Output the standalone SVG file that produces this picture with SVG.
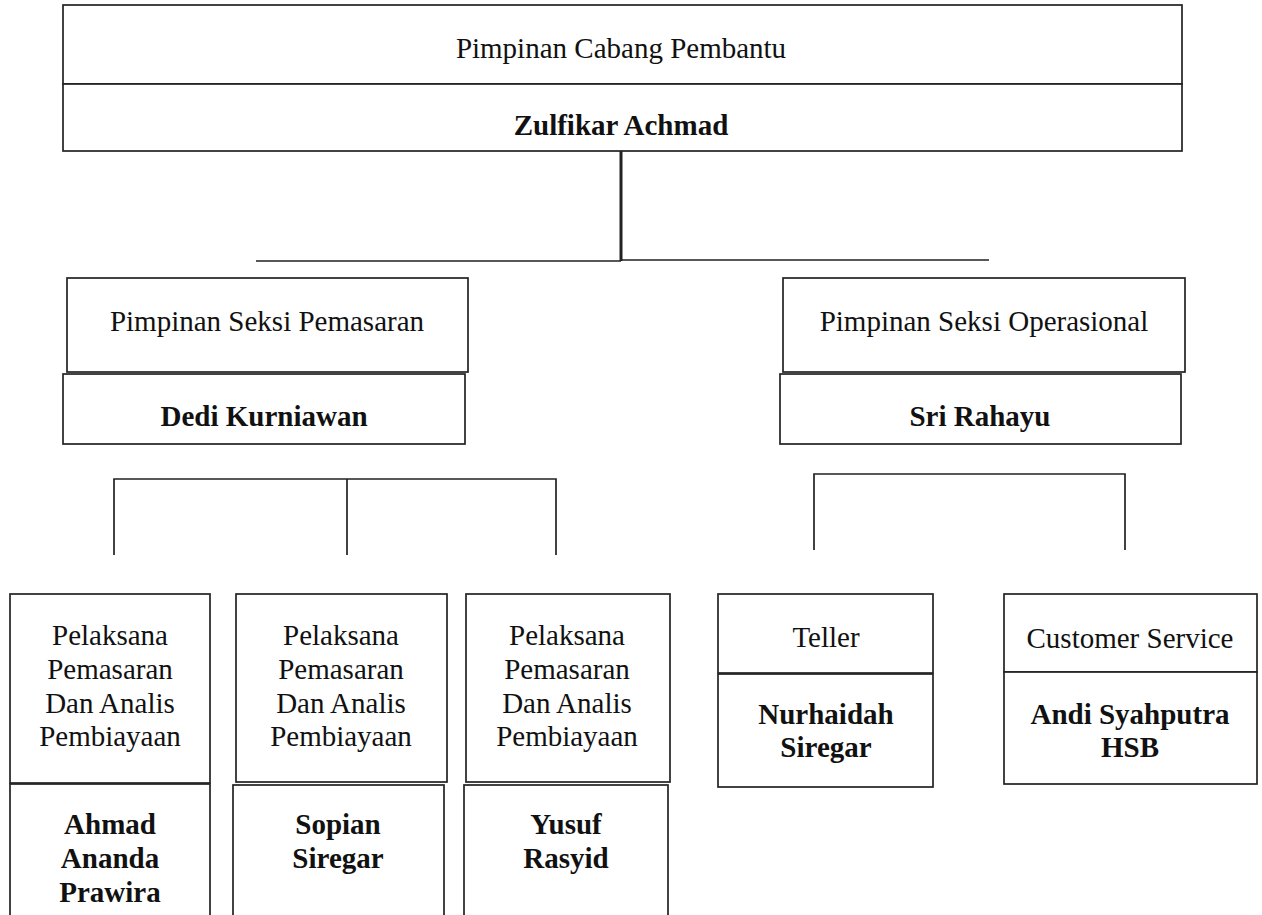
<svg xmlns="http://www.w3.org/2000/svg" width="1262" height="915" viewBox="0 0 1262 915">
  <style>
    .box { fill: #fff; stroke: #222; stroke-width: 1.7; }
    .wire { fill: none; stroke: #222; stroke-width: 1.7; }
    .title { font-family: "Liberation Serif", "Times New Roman", serif; font-size: 29px; fill: #111; text-anchor: middle; }
    .name { font-family: "Liberation Serif", "Times New Roman", serif; font-size: 29px; font-weight: bold; fill: #111; text-anchor: middle; }
  </style>
  <rect width="1262" height="915" fill="#fff"/>

  <!-- connectors -->
  <g id="connectors">
    <path class="wire" d="M621,151 V261" style="stroke-width:3"/>
    <path class="wire" d="M256,261 H621 M621,260 H989"/>
    <path class="wire" d="M114,555 V479 H556 V555 M347,479 V555"/>
    <path class="wire" d="M814,550 V474 H1125 V550"/>
  </g>

  <!-- head of branch -->
  <g id="node-pimpinan-cabang">
    <rect class="box" x="63" y="5" width="1119" height="79"/>
    <rect class="box" x="63" y="84" width="1119" height="67"/>
    <text class="title" x="621" y="58">Pimpinan Cabang Pembantu</text>
    <text class="name" x="621" y="135">Zulfikar Achmad</text>
  </g>

  <!-- marketing section -->
  <g id="node-seksi-pemasaran">
    <rect class="box" x="67" y="278" width="401" height="94"/>
    <rect class="box" x="63" y="374" width="402" height="70"/>
    <text class="title" x="267" y="331">Pimpinan Seksi Pemasaran</text>
    <text class="name" x="264" y="426">Dedi Kurniawan</text>
  </g>

  <!-- operations section -->
  <g id="node-seksi-operasional">
    <rect class="box" x="783" y="278" width="402" height="94"/>
    <rect class="box" x="780" y="374" width="401" height="70"/>
    <text class="title" x="984" y="331">Pimpinan Seksi Operasional</text>
    <text class="name" x="980" y="426">Sri Rahayu</text>
  </g>

  <!-- marketing staff 1 -->
  <g id="node-pelaksana-1">
    <rect class="box" x="10" y="594" width="200" height="189"/>
    <rect class="box" x="10" y="784" width="200" height="140"/>
    <text class="title" x="110" y="645">Pelaksana</text>
    <text class="title" x="110" y="679">Pemasaran</text>
    <text class="title" x="110" y="713">Dan Analis</text>
    <text class="title" x="110" y="746">Pembiayaan</text>
    <text class="name" x="110" y="834">Ahmad</text>
    <text class="name" x="110" y="868">Ananda</text>
    <text class="name" x="110" y="902">Prawira</text>
  </g>

  <!-- marketing staff 2 -->
  <g id="node-pelaksana-2">
    <rect class="box" x="236" y="594" width="211" height="188"/>
    <rect class="box" x="233" y="785" width="211" height="140"/>
    <text class="title" x="341" y="645">Pelaksana</text>
    <text class="title" x="341" y="679">Pemasaran</text>
    <text class="title" x="341" y="713">Dan Analis</text>
    <text class="title" x="341" y="746">Pembiayaan</text>
    <text class="name" x="338" y="834">Sopian</text>
    <text class="name" x="338" y="868">Siregar</text>
  </g>

  <!-- marketing staff 3 -->
  <g id="node-pelaksana-3">
    <rect class="box" x="466" y="594" width="204" height="188"/>
    <rect class="box" x="464" y="785" width="204" height="140"/>
    <text class="title" x="567" y="645">Pelaksana</text>
    <text class="title" x="567" y="679">Pemasaran</text>
    <text class="title" x="567" y="713">Dan Analis</text>
    <text class="title" x="567" y="746">Pembiayaan</text>
    <text class="name" x="566" y="834">Yusuf</text>
    <text class="name" x="566" y="868">Rasyid</text>
  </g>

  <!-- teller -->
  <g id="node-teller">
    <rect class="box" x="718" y="594" width="215" height="79"/>
    <rect class="box" x="718" y="674" width="215" height="113"/>
    <text class="title" x="826" y="647">Teller</text>
    <text class="name" x="826" y="724">Nurhaidah</text>
    <text class="name" x="826" y="757">Siregar</text>
  </g>

  <!-- customer service -->
  <g id="node-customer-service">
    <rect class="box" x="1004" y="594" width="253" height="78"/>
    <rect class="box" x="1004" y="672" width="253" height="112"/>
    <text class="title" x="1130" y="648">Customer Service</text>
    <text class="name" x="1130" y="724">Andi Syahputra</text>
    <text class="name" x="1130" y="757">HSB</text>
  </g>
</svg>
